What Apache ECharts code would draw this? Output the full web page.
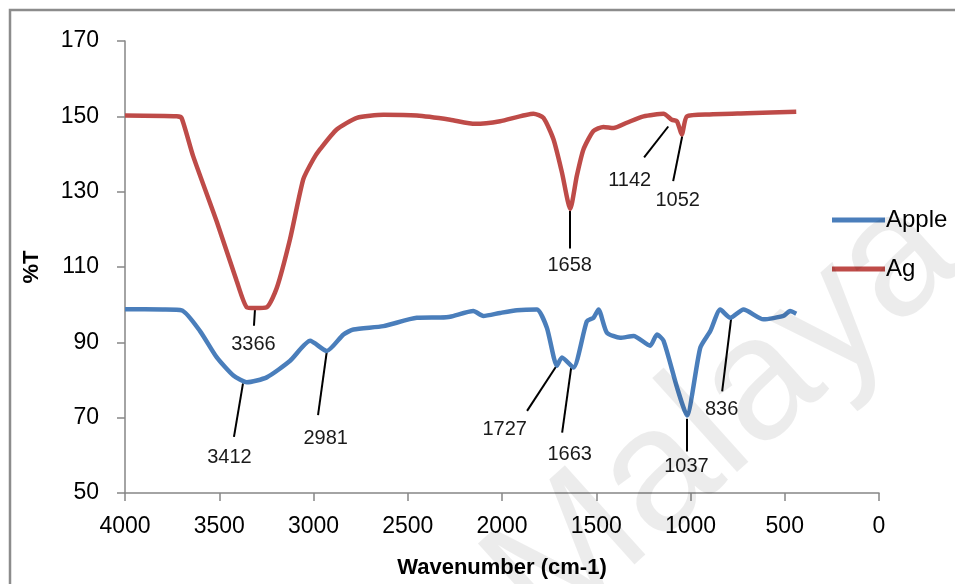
<!DOCTYPE html>
<html>
<head>
<meta charset="utf-8">
<script src="https://cdn.jsdelivr.net/npm/echarts@6/dist/echarts.min.js"></script>
<style>html,body{margin:0;padding:0;background:#fff}#chart{width:955px;height:584px}</style>
</head>
<body>
<div id="chart"></div>
<script>
// Wavenumber (cm-1) / %T for each series
var appleX = [4000,3800,3699,3602,3513,3425,3354,3248,3124,3018,2930,2841,2788,2629,2452,2328,2275,2152,2099,2010,1921,1815,1762,1709,1682,1621,1550,1515,1488,1444,1373,1302,1214,1178,1143,1072,1019,948,895,842,789,719,613,507,472,439];
var appleY = [98.8,98.7,98.5,93,86,81.2,79.4,80.7,85.1,90.4,87.7,92.1,93.4,94.3,96.5,96.6,96.8,98.3,97,97.8,98.5,98.7,93.9,83.8,86,83.3,95.6,96.5,98.7,92.6,91.2,91.7,89.1,92.1,90.4,78.1,70.6,88.6,93,98.7,96.5,98.7,96.1,97,98.3,97.6];
var agX = [4000,3726,3700,3639,3513,3407,3354,3310,3248,3195,3124,3054,3001,2966,2877,2770,2629,2452,2275,2143,2010,1833,1780,1727,1682,1638,1603,1568,1515,1462,1409,1338,1249,1143,1099,1072,1046,1019,900,700,439];
var agY = [150.2,150,149.6,139.5,122,106.2,99.3,99.1,99.3,104.4,117.5,133.3,138.6,141.2,146.5,149.6,150.4,150.2,149.1,148,148.7,150.7,149.6,143.9,135.1,125.4,134.2,141.2,146.1,147.2,146.9,148.3,150,150.7,149.1,148.7,145.2,150,150.5,150.8,151.2];
var xTicks = {min: 0, max: 4000, interval: 500};
var yTicks = {min: 50, max: 170, interval: 20};
// peak annotations: text, leader start [x,y], leader end [x,y], text centre [x,y]
var peakText  = ['3366','3412','2981','1727','1663','1037','836','1658','1142','1052'];
var peakFrom  = [[3310,99.1],[3374,79.1],[2928,88.1],[1713,83.6],[1633,83.3],[1019,69.7],[784,96.5],[1638,124.9],[1118,147.3],[1044,144.7]];
var peakTo    = [[3316,94.4],[3422,64.9],[2976,70.7],[1867,71.8],[1681,66],[1019,61],[832,77],[1638,114.9],[1246,139.1],[1092,132.8]];
var peakLabel = [[3316,89.4],[3443,59.4],[2933,64.4],[1983,66.8],[1638,60.2],[1019,57],[832,72],[1638,110.4],[1320,132.8],[1065,127.5]];

var FONT = 'Liberation Sans';
function zip(xs, ys){ return xs.map(function(x,i){ return [x, ys[i]]; }); }

var chart = echarts.init(document.getElementById('chart'));
chart.setOption({
  animation: false,
  backgroundColor: '#fff',
  textStyle: {fontFamily: FONT},
  grid: {left: 125, right: 76, top: 41, bottom: 87},
  legend: {
    data: ['Apple','Ag'], orient: 'vertical', left: 827, top: 203,
    icon: 'rect', itemWidth: 53, itemHeight: 5, itemGap: 25,
    textStyle: {fontSize: 24, color: '#000', fontFamily: FONT, padding: [0,0,0,-4]}
  },
  xAxis: {
    type: 'value', inverse: true, min: xTicks.min, max: xTicks.max, interval: xTicks.interval,
    name: 'Wavenumber (cm-1)', nameLocation: 'middle', nameGap: 64,
    nameTextStyle: {fontSize: 22, fontWeight: 'bold', color: '#000', fontFamily: FONT},
    axisLine: {onZero: false, lineStyle: {color: '#868686', width: 1.5}},
    axisTick: {show: true, length: 8, lineStyle: {color: '#868686', width: 1.5}},
    axisLabel: {fontSize: 23, color: '#000', margin: 22, fontFamily: FONT,
                formatter: function(v){ return String(v); }},
    splitLine: {show: false}
  },
  yAxis: {
    type: 'value', position: 'left', min: yTicks.min, max: yTicks.max, interval: yTicks.interval,
    name: '%T', nameLocation: 'middle', nameGap: 82, nameRotate: 90,
    nameTextStyle: {fontSize: 22, fontWeight: 'bold', color: '#000', fontFamily: FONT},
    axisLine: {show: true, onZero: false, lineStyle: {color: '#868686', width: 1.5}},
    axisTick: {show: true, length: 8, lineStyle: {color: '#868686', width: 1.5}},
    axisLabel: {fontSize: 23, color: '#000', margin: 26, fontFamily: FONT},
    splitLine: {show: false}
  },
  series: [
    {name: 'Apple', type: 'line', data: zip(appleX, appleY), showSymbol: false, smooth: 0.2,
     itemStyle: {color: '#4A7EBB'}, lineStyle: {color: '#4A7EBB', width: 4.5}},
    {name: 'Ag', type: 'line', data: zip(agX, agY), showSymbol: false, smooth: 0.2,
     itemStyle: {color: '#BE4B48'}, lineStyle: {color: '#BE4B48', width: 4.5}},
    {name: 'leaders', type: 'lines', coordinateSystem: 'cartesian2d', silent: true,
     lineStyle: {color: '#000', width: 2, opacity: 1},
     data: peakFrom.map(function(p,i){ return {coords: [p, peakTo[i]]}; })},
    {name: 'peaks', type: 'scatter', symbol: 'circle', symbolSize: 1, silent: true,
     itemStyle: {color: 'rgba(0,0,0,0)', opacity: 1},
     label: {show: true, position: [0, 0], align: 'center', verticalAlign: 'middle',
             formatter: '{b}', fontSize: 20, color: '#1a1a1a', opacity: 1,
             textBorderWidth: 0, fontFamily: FONT},
     data: peakLabel.map(function(p,i){ return {name: peakText[i], value: p}; })}
  ],
  graphic: [
    {type: 'rect', silent: true, z: 100,
     shape: {x: 10, y: 10, width: 1200, height: 1200},
     style: {fill: 'none', stroke: '#8c8c8c', lineWidth: 2.5}},
    {type: 'text', silent: true, z: 100, x: 725, y: 418, rotation: 42 * Math.PI / 180,
     style: {text: 'Malaya', fontSize: 175, fontFamily: FONT, fill: 'rgba(0,0,0,0.075)',
             align: 'center', verticalAlign: 'middle'}}
  ]
});
</script>
</body>
</html>
